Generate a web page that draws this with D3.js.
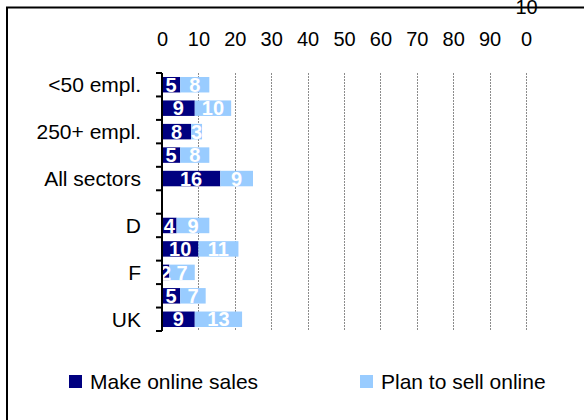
<!DOCTYPE html>
<html>
<head>
<meta charset="utf-8">
<script src="https://cdn.jsdelivr.net/npm/d3@7"></script>
<style>
  html, body { margin: 0; padding: 0; background: #fff; }
  svg { display: block; font-family: "Liberation Sans", Arial, sans-serif; }
</style>
</head>
<body>
<svg id="chart" width="584" height="420"></svg>
<script>
const categories = ["<50 empl.", "", "250+ empl.", "", "All sectors", "", "D", "", "F", "", "UK"];
const makeOnlineSales = [5, 9, 8, 5, 16, null, 4, 10, 2, 5, 9];
const planToSellOnline = [8, 10, 3, 8, 9, null, 9, 11, 7, 7, 13];
const seriesNames = ["Make online sales", "Plan to sell online"];
const xTicks = [0, 10, 20, 30, 40, 50, 60, 70, 80, 90, 100];

const colors = ["#000080", "#99ccff"];
const svg = d3.select("#chart");

const x = d3.scaleLinear().domain([0, 100]).range([162, 526]);
const y = d3.scaleBand().domain(d3.range(categories.length)).range([73, 331])
  .paddingInner(0.34).paddingOuter(0.17);

// gridlines
svg.append("g").selectAll("line").data(xTicks.filter(t => t > 0)).join("line")
  .attr("x1", d => Math.round(x(d)) + 0.5).attr("x2", d => Math.round(x(d)) + 0.5)
  .attr("y1", 73).attr("y2", 331)
  .attr("stroke", "#8c8c8c").attr("stroke-width", 1).attr("stroke-dasharray", "2,1");

// top axis labels
const xAxis = svg.append("g").attr("transform", "translate(0,46)")
  .call(d3.axisTop(x).tickValues(xTicks).tickSize(0).tickPadding(0).tickFormat(d3.format("d")));
xAxis.select(".domain").remove();
xAxis.selectAll("text").attr("font-size", 20).attr("fill", "#000")
  .attr("font-family", "Liberation Sans, Arial, sans-serif");
xAxis.selectAll(".tick").filter(d => d === 100).select("text").each(function(d) {
  const t = d3.select(this);
  const s = String(d);
  t.text(null);
  t.append("tspan").attr("x", 0).attr("y", -32).text(s.slice(0, 2));
  t.append("tspan").attr("x", 0).attr("y", 0).text(s.slice(2));
});

// stacked bars
const rows = categories.map((c, i) => ({ i, a: makeOnlineSales[i], b: planToSellOnline[i] }))
  .filter(r => r.a != null);
const bh = y.bandwidth();
const gBars = svg.append("g");
rows.forEach(r => {
  const segs = [
    { x0: 0, x1: r.a, v: r.a, c: colors[0] },
    { x0: r.a, x1: r.a + r.b, v: r.b, c: colors[1] }
  ];
  segs.forEach(s => {
    gBars.append("rect")
      .attr("x", x(s.x0)).attr("y", y(r.i))
      .attr("width", x(s.x1) - x(s.x0)).attr("height", bh)
      .attr("fill", s.c);
  });
  segs.forEach(s => {
    gBars.append("text")
      .attr("x", (x(s.x0) + x(s.x1)) / 2).attr("y", y(r.i) + bh / 2)
      .attr("dy", "0.36em").attr("text-anchor", "middle")
      .attr("font-size", 20).attr("font-weight", "bold").attr("fill", "#fff")
      .text(s.v);
  });
});

// left axis
const step = y.step();
const ga = svg.append("g");
ga.append("line").attr("x1", 162).attr("x2", 162).attr("y1", 73).attr("y2", 331)
  .attr("stroke", "#000").attr("stroke-width", 2);
ga.selectAll("line.tk").data(d3.range(categories.length + 1)).join("line").attr("class", "tk")
  .attr("x1", 156).attr("x2", 162)
  .attr("y1", k => 73 + k * step).attr("y2", k => 73 + k * step)
  .attr("stroke", "#000").attr("stroke-width", 2);
ga.selectAll("text").data(categories).join("text")
  .attr("x", 141).attr("y", (d, i) => y(i) + bh / 2).attr("dy", "0.36em")
  .attr("text-anchor", "end").attr("font-size", 21).attr("fill", "#000")
  .text(d => d);

// legend
const legX = [69, 360];
const lg = svg.append("g");
seriesNames.forEach((n, i) => {
  lg.append("rect").attr("x", legX[i]).attr("y", 375).attr("width", 13).attr("height", 13)
    .attr("fill", colors[i]);
  lg.append("text").attr("x", legX[i] + 21).attr("y", 381.5).attr("dy", "0.36em")
    .attr("font-size", 21).attr("fill", "#000").text(n);
});

// outer border (clipped frame)
svg.append("path").attr("d", "M7,420V7.5H584").attr("fill", "none")
  .attr("stroke", "#000").attr("stroke-width", 2);
</script>
</body>
</html>
